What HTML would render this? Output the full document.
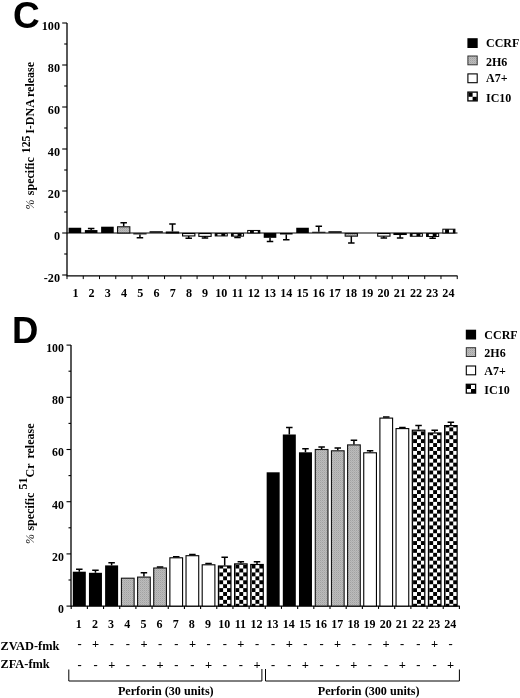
<!DOCTYPE html>
<html><head><meta charset="utf-8"><title>Figure</title>
<style>
html,body{margin:0;padding:0;background:#fff;}
body{width:520px;height:698px;overflow:hidden;font-family:"Liberation Serif",serif;}
svg{display:block;will-change:transform;}
</style></head><body>
<svg width="520" height="698" viewBox="0 0 520 698">
<rect width="520" height="698" fill="#fff"/>
<defs>
<pattern id="chkD" width="7.8" height="7.84" patternUnits="userSpaceOnUse" patternTransform="translate(-5.45,603.8)">
<rect width="7.8" height="7.84" fill="#fff"/>
<rect x="0" y="0" width="3.9" height="3.92" fill="#000"/>
<rect x="3.9" y="3.92" width="3.9" height="3.92" fill="#000"/>
</pattern>
<pattern id="chkC" width="7.8" height="7.84" patternUnits="userSpaceOnUse" patternTransform="translate(-7.7,233)">
<rect width="7.8" height="7.84" fill="#fff"/>
<rect x="0" y="0" width="3.9" height="3.92" fill="#000"/>
<rect x="3.9" y="3.92" width="3.9" height="3.92" fill="#000"/>
</pattern>
<pattern id="gry" width="2" height="2" patternUnits="userSpaceOnUse">
<rect width="2" height="2" fill="#bcbcbc"/>
<rect width="1" height="1" fill="#a2a2a2"/>
<rect x="1" y="1" width="1" height="1" fill="#b0b0b0"/>
</pattern>
</defs>
<path d="M67.0 23.0V275.9H457.5" stroke="#000" stroke-width="1.3" fill="none"/>
<path d="M67.0 233.0H457.5" stroke="#000" stroke-width="1.2" fill="none"/>
<path d="M62.2 23.00H67.0" stroke="#000" stroke-width="1.1"/>
<text x="60" y="30.10" text-anchor="end" font-family="Liberation Serif, serif" font-weight="bold" font-size="12.2">100</text>
<path d="M64.2 44.00H67.0" stroke="#000" stroke-width="1.1"/>
<path d="M62.2 65.00H67.0" stroke="#000" stroke-width="1.1"/>
<text x="60" y="72.10" text-anchor="end" font-family="Liberation Serif, serif" font-weight="bold" font-size="12.2">80</text>
<path d="M64.2 86.00H67.0" stroke="#000" stroke-width="1.1"/>
<path d="M62.2 107.00H67.0" stroke="#000" stroke-width="1.1"/>
<text x="60" y="114.10" text-anchor="end" font-family="Liberation Serif, serif" font-weight="bold" font-size="12.2">60</text>
<path d="M64.2 128.00H67.0" stroke="#000" stroke-width="1.1"/>
<path d="M62.2 149.00H67.0" stroke="#000" stroke-width="1.1"/>
<text x="60" y="156.10" text-anchor="end" font-family="Liberation Serif, serif" font-weight="bold" font-size="12.2">40</text>
<path d="M64.2 170.00H67.0" stroke="#000" stroke-width="1.1"/>
<path d="M62.2 191.00H67.0" stroke="#000" stroke-width="1.1"/>
<text x="60" y="198.10" text-anchor="end" font-family="Liberation Serif, serif" font-weight="bold" font-size="12.2">20</text>
<path d="M64.2 212.00H67.0" stroke="#000" stroke-width="1.1"/>
<path d="M62.2 233.00H67.0" stroke="#000" stroke-width="1.1"/>
<text x="60" y="240.10" text-anchor="end" font-family="Liberation Serif, serif" font-weight="bold" font-size="12.2">0</text>
<path d="M64.2 254.00H67.0" stroke="#000" stroke-width="1.1"/>
<path d="M62.2 275.00H67.0" stroke="#000" stroke-width="1.1"/>
<text x="60" y="282.10" text-anchor="end" font-family="Liberation Serif, serif" font-weight="bold" font-size="12.2">-20</text>
<path d="M67.00 275.9V279.09999999999997" stroke="#000" stroke-width="1"/>
<path d="M83.26 275.9V279.09999999999997" stroke="#000" stroke-width="1"/>
<path d="M99.52 275.9V279.09999999999997" stroke="#000" stroke-width="1"/>
<path d="M115.78 275.9V279.09999999999997" stroke="#000" stroke-width="1"/>
<path d="M132.04 275.9V279.09999999999997" stroke="#000" stroke-width="1"/>
<path d="M148.30 275.9V279.09999999999997" stroke="#000" stroke-width="1"/>
<path d="M164.56 275.9V279.09999999999997" stroke="#000" stroke-width="1"/>
<path d="M180.82 275.9V279.09999999999997" stroke="#000" stroke-width="1"/>
<path d="M197.08 275.9V279.09999999999997" stroke="#000" stroke-width="1"/>
<path d="M213.34 275.9V279.09999999999997" stroke="#000" stroke-width="1"/>
<path d="M229.60 275.9V279.09999999999997" stroke="#000" stroke-width="1"/>
<path d="M245.86 275.9V279.09999999999997" stroke="#000" stroke-width="1"/>
<path d="M262.12 275.9V279.09999999999997" stroke="#000" stroke-width="1"/>
<path d="M278.38 275.9V279.09999999999997" stroke="#000" stroke-width="1"/>
<path d="M294.64 275.9V279.09999999999997" stroke="#000" stroke-width="1"/>
<path d="M310.90 275.9V279.09999999999997" stroke="#000" stroke-width="1"/>
<path d="M327.16 275.9V279.09999999999997" stroke="#000" stroke-width="1"/>
<path d="M343.42 275.9V279.09999999999997" stroke="#000" stroke-width="1"/>
<path d="M359.68 275.9V279.09999999999997" stroke="#000" stroke-width="1"/>
<path d="M375.94 275.9V279.09999999999997" stroke="#000" stroke-width="1"/>
<path d="M392.20 275.9V279.09999999999997" stroke="#000" stroke-width="1"/>
<path d="M408.46 275.9V279.09999999999997" stroke="#000" stroke-width="1"/>
<path d="M424.72 275.9V279.09999999999997" stroke="#000" stroke-width="1"/>
<path d="M440.98 275.9V279.09999999999997" stroke="#000" stroke-width="1"/>
<path d="M457.24 275.9V279.09999999999997" stroke="#000" stroke-width="1"/>
<text x="75.40" y="297.2" text-anchor="middle" font-family="Liberation Serif, serif" font-weight="bold" font-size="12.1">1</text>
<text x="91.62" y="297.2" text-anchor="middle" font-family="Liberation Serif, serif" font-weight="bold" font-size="12.1">2</text>
<text x="107.83" y="297.2" text-anchor="middle" font-family="Liberation Serif, serif" font-weight="bold" font-size="12.1">3</text>
<text x="124.05" y="297.2" text-anchor="middle" font-family="Liberation Serif, serif" font-weight="bold" font-size="12.1">4</text>
<text x="140.27" y="297.2" text-anchor="middle" font-family="Liberation Serif, serif" font-weight="bold" font-size="12.1">5</text>
<text x="156.49" y="297.2" text-anchor="middle" font-family="Liberation Serif, serif" font-weight="bold" font-size="12.1">6</text>
<text x="172.70" y="297.2" text-anchor="middle" font-family="Liberation Serif, serif" font-weight="bold" font-size="12.1">7</text>
<text x="188.92" y="297.2" text-anchor="middle" font-family="Liberation Serif, serif" font-weight="bold" font-size="12.1">8</text>
<text x="205.14" y="297.2" text-anchor="middle" font-family="Liberation Serif, serif" font-weight="bold" font-size="12.1">9</text>
<text x="221.35" y="297.2" text-anchor="middle" font-family="Liberation Serif, serif" font-weight="bold" font-size="12.1">10</text>
<text x="237.57" y="297.2" text-anchor="middle" font-family="Liberation Serif, serif" font-weight="bold" font-size="12.1">11</text>
<text x="253.79" y="297.2" text-anchor="middle" font-family="Liberation Serif, serif" font-weight="bold" font-size="12.1">12</text>
<text x="270.00" y="297.2" text-anchor="middle" font-family="Liberation Serif, serif" font-weight="bold" font-size="12.1">13</text>
<text x="286.22" y="297.2" text-anchor="middle" font-family="Liberation Serif, serif" font-weight="bold" font-size="12.1">14</text>
<text x="302.44" y="297.2" text-anchor="middle" font-family="Liberation Serif, serif" font-weight="bold" font-size="12.1">15</text>
<text x="318.65" y="297.2" text-anchor="middle" font-family="Liberation Serif, serif" font-weight="bold" font-size="12.1">16</text>
<text x="334.87" y="297.2" text-anchor="middle" font-family="Liberation Serif, serif" font-weight="bold" font-size="12.1">17</text>
<text x="351.09" y="297.2" text-anchor="middle" font-family="Liberation Serif, serif" font-weight="bold" font-size="12.1">18</text>
<text x="367.31" y="297.2" text-anchor="middle" font-family="Liberation Serif, serif" font-weight="bold" font-size="12.1">19</text>
<text x="383.52" y="297.2" text-anchor="middle" font-family="Liberation Serif, serif" font-weight="bold" font-size="12.1">20</text>
<text x="399.74" y="297.2" text-anchor="middle" font-family="Liberation Serif, serif" font-weight="bold" font-size="12.1">21</text>
<text x="415.96" y="297.2" text-anchor="middle" font-family="Liberation Serif, serif" font-weight="bold" font-size="12.1">22</text>
<text x="432.17" y="297.2" text-anchor="middle" font-family="Liberation Serif, serif" font-weight="bold" font-size="12.1">23</text>
<text x="448.39" y="297.2" text-anchor="middle" font-family="Liberation Serif, serif" font-weight="bold" font-size="12.1">24</text>
<rect x="68.60" y="227.75" width="12.60" height="5.25" fill="#000"/>
<rect x="84.86" y="230.06" width="12.60" height="2.94" fill="#000"/>
<path d="M91.16 230.06V228.38M87.91 228.38H94.41" stroke="#000" stroke-width="1.5" fill="none"/>
<rect x="101.12" y="226.70" width="12.60" height="6.30" fill="#000"/>
<rect x="117.53" y="226.78" width="12.30" height="6.22" fill="url(#gry)" stroke="#111" stroke-width="1.1"/>
<path d="M123.68 226.28V222.71M120.43 222.71H126.93" stroke="#000" stroke-width="1.5" fill="none"/>
<rect x="133.29" y="233.00" width="13.30" height="1.47" fill="#222"/>
<path d="M139.94 234.47V237.83M136.69 237.83H143.19" stroke="#000" stroke-width="1.5" fill="none"/>
<rect x="149.55" y="231.11" width="13.30" height="1.89" fill="#222"/>
<rect x="166.31" y="232.03" width="12.30" height="0.97" fill="#fff" stroke="#000" stroke-width="1.1"/>
<path d="M172.46 231.53V223.97M169.21 223.97H175.71" stroke="#000" stroke-width="1.5" fill="none"/>
<rect x="182.57" y="233.50" width="12.30" height="2.44" fill="#fff" stroke="#000" stroke-width="1.1"/>
<path d="M188.72 235.94V238.25M185.47 238.25H191.97" stroke="#000" stroke-width="1.5" fill="none"/>
<rect x="198.83" y="233.50" width="12.30" height="2.86" fill="#fff" stroke="#000" stroke-width="1.1"/>
<path d="M204.98 236.36V238.04M201.73 238.04H208.23" stroke="#000" stroke-width="1.5" fill="none"/>
<g transform="translate(221.24,0)"><rect x="-6.05" y="233.60" width="12.10" height="2.34" fill="url(#chkC)" stroke="#000" stroke-width="1.0"/></g>
<g transform="translate(237.50,0)"><rect x="-6.05" y="233.60" width="12.10" height="2.55" fill="url(#chkC)" stroke="#000" stroke-width="1.0"/></g>
<path d="M237.50 236.15V237.62M234.25 237.62H240.75" stroke="#000" stroke-width="1.5" fill="none"/>
<g transform="translate(253.76,0)"><rect x="-6.05" y="230.45" width="12.10" height="2.55" fill="url(#chkC)" stroke="#000" stroke-width="1.0"/></g>
<rect x="263.72" y="233.00" width="12.60" height="4.83" fill="#000"/>
<path d="M270.02 237.83V241.40M266.77 241.40H273.27" stroke="#000" stroke-width="1.5" fill="none"/>
<rect x="279.98" y="233.00" width="12.60" height="1.47" fill="#000"/>
<path d="M286.28 234.47V239.72M283.03 239.72H289.53" stroke="#000" stroke-width="1.5" fill="none"/>
<rect x="296.24" y="227.75" width="12.60" height="5.25" fill="#000"/>
<rect x="312.15" y="231.74" width="13.30" height="1.26" fill="#222"/>
<path d="M318.80 231.74V226.28M315.55 226.28H322.05" stroke="#000" stroke-width="1.5" fill="none"/>
<rect x="328.41" y="231.11" width="13.30" height="1.89" fill="#222"/>
<rect x="345.17" y="233.50" width="12.30" height="2.65" fill="url(#gry)" stroke="#111" stroke-width="1.1"/>
<path d="M351.32 236.15V243.08M348.07 243.08H354.57" stroke="#000" stroke-width="1.5" fill="none"/>
<rect x="361.43" y="233.08" width="12.30" height="-0.08" fill="#fff" stroke="#000" stroke-width="1.1"/>
<rect x="377.69" y="233.50" width="12.30" height="2.65" fill="#fff" stroke="#000" stroke-width="1.1"/>
<path d="M383.84 236.15V238.04M380.59 238.04H387.09" stroke="#000" stroke-width="1.5" fill="none"/>
<rect x="393.95" y="233.50" width="12.30" height="0.97" fill="#fff" stroke="#000" stroke-width="1.1"/>
<path d="M400.10 234.47V238.04M396.85 238.04H403.35" stroke="#000" stroke-width="1.5" fill="none"/>
<g transform="translate(416.36,0)"><rect x="-6.05" y="233.60" width="12.10" height="2.65" fill="url(#chkC)" stroke="#000" stroke-width="1.0"/></g>
<g transform="translate(432.62,0)"><rect x="-6.05" y="233.60" width="12.10" height="2.87" fill="url(#chkC)" stroke="#000" stroke-width="1.0"/></g>
<path d="M432.62 236.47V238.15M429.37 238.15H435.87" stroke="#000" stroke-width="1.5" fill="none"/>
<g transform="translate(448.88,0)"><rect x="-6.05" y="229.19" width="12.10" height="3.81" fill="url(#chkC)" stroke="#000" stroke-width="1.0"/></g>
<rect x="467.4" y="38.2" width="10.3" height="9.8" fill="#000"/>
<text x="486" y="47.2" font-family="Liberation Serif, serif" font-weight="bold" font-size="12">CCRF</text>
<rect x="467.9" y="56.0" width="9.3" height="8.8" fill="url(#gry)" stroke="#333" stroke-width="1"/>
<text x="486" y="65.8" font-family="Liberation Serif, serif" font-weight="bold" font-size="12">2H6</text>
<rect x="467.9" y="73.9" width="9.3" height="8.8" fill="#fff" stroke="#000" stroke-width="1.1"/>
<text x="486" y="82.4" font-family="Liberation Serif, serif" font-weight="bold" font-size="12">A7+</text>
<rect x="467.9" y="92.1" width="9.3" height="8.8" fill="#fff" stroke="#000" stroke-width="1.3"/>
<rect x="468.4" y="92.6" width="4.2" height="4.2" fill="#000"/>
<rect x="472.59999999999997" y="96.8" width="4.2" height="4" fill="#000"/>
<text x="486" y="102" font-family="Liberation Serif, serif" font-weight="bold" font-size="12">IC10</text>
<text x="12.9" y="27.7" font-family="Liberation Sans, sans-serif" font-weight="bold" font-size="37">C</text>
<text transform="translate(34,211) rotate(-90)" font-family="Liberation Serif, serif" font-weight="bold" font-size="12"><tspan x="1.4" font-weight="normal" font-style="italic">%</tspan><tspan x="15.8">specific</tspan><tspan x="57.8" dy="-4.2" font-size="11.8">125</tspan><tspan x="77.2" dy="4.2">I-DNA</tspan><tspan x="114">release</tspan></text>
<path d="M71.0 345.0V606.1H459.8" stroke="#000" stroke-width="1.3" fill="none"/>
<path d="M66.5 345.10H71.0" stroke="#000" stroke-width="1.1"/>
<text transform="translate(63.9,351.90) scale(0.89,1)" text-anchor="end" font-family="Liberation Serif, serif" font-weight="bold" font-size="13.3">100</text>
<path d="M68.5 371.20H71.0" stroke="#000" stroke-width="1.1"/>
<path d="M66.5 397.30H71.0" stroke="#000" stroke-width="1.1"/>
<text transform="translate(63.9,404.10) scale(0.89,1)" text-anchor="end" font-family="Liberation Serif, serif" font-weight="bold" font-size="13.3">80</text>
<path d="M68.5 423.40H71.0" stroke="#000" stroke-width="1.1"/>
<path d="M66.5 449.50H71.0" stroke="#000" stroke-width="1.1"/>
<text transform="translate(63.9,456.30) scale(0.89,1)" text-anchor="end" font-family="Liberation Serif, serif" font-weight="bold" font-size="13.3">60</text>
<path d="M68.5 475.60H71.0" stroke="#000" stroke-width="1.1"/>
<path d="M66.5 501.70H71.0" stroke="#000" stroke-width="1.1"/>
<text transform="translate(63.9,508.50) scale(0.89,1)" text-anchor="end" font-family="Liberation Serif, serif" font-weight="bold" font-size="13.3">40</text>
<path d="M68.5 527.80H71.0" stroke="#000" stroke-width="1.1"/>
<path d="M66.5 553.90H71.0" stroke="#000" stroke-width="1.1"/>
<text transform="translate(63.9,560.70) scale(0.89,1)" text-anchor="end" font-family="Liberation Serif, serif" font-weight="bold" font-size="13.3">20</text>
<path d="M68.5 580.00H71.0" stroke="#000" stroke-width="1.1"/>
<path d="M66.5 606.10H71.0" stroke="#000" stroke-width="1.1"/>
<text transform="translate(63.9,612.90) scale(0.89,1)" text-anchor="end" font-family="Liberation Serif, serif" font-weight="bold" font-size="13.3">0</text>
<path d="M71.20 606.1V608.9" stroke="#000" stroke-width="1.1"/>
<path d="M87.38 606.1V608.9" stroke="#000" stroke-width="1.1"/>
<path d="M103.55 606.1V608.9" stroke="#000" stroke-width="1.1"/>
<path d="M119.73 606.1V608.9" stroke="#000" stroke-width="1.1"/>
<path d="M135.90 606.1V608.9" stroke="#000" stroke-width="1.1"/>
<path d="M152.07 606.1V608.9" stroke="#000" stroke-width="1.1"/>
<path d="M168.25 606.1V608.9" stroke="#000" stroke-width="1.1"/>
<path d="M184.43 606.1V608.9" stroke="#000" stroke-width="1.1"/>
<path d="M200.60 606.1V608.9" stroke="#000" stroke-width="1.1"/>
<path d="M216.78 606.1V608.9" stroke="#000" stroke-width="1.1"/>
<path d="M232.95 606.1V608.9" stroke="#000" stroke-width="1.1"/>
<path d="M249.12 606.1V608.9" stroke="#000" stroke-width="1.1"/>
<path d="M265.30 606.1V608.9" stroke="#000" stroke-width="1.1"/>
<path d="M281.48 606.1V608.9" stroke="#000" stroke-width="1.1"/>
<path d="M297.65 606.1V608.9" stroke="#000" stroke-width="1.1"/>
<path d="M313.82 606.1V608.9" stroke="#000" stroke-width="1.1"/>
<path d="M330.00 606.1V608.9" stroke="#000" stroke-width="1.1"/>
<path d="M346.18 606.1V608.9" stroke="#000" stroke-width="1.1"/>
<path d="M362.35 606.1V608.9" stroke="#000" stroke-width="1.1"/>
<path d="M378.52 606.1V608.9" stroke="#000" stroke-width="1.1"/>
<path d="M394.70 606.1V608.9" stroke="#000" stroke-width="1.1"/>
<path d="M410.88 606.1V608.9" stroke="#000" stroke-width="1.1"/>
<path d="M427.05 606.1V608.9" stroke="#000" stroke-width="1.1"/>
<path d="M443.23 606.1V608.9" stroke="#000" stroke-width="1.1"/>
<path d="M459.40 606.1V608.9" stroke="#000" stroke-width="1.1"/>
<text x="78.80" y="628.2" text-anchor="middle" font-family="Liberation Serif, serif" font-weight="bold" font-size="12">1</text>
<text x="94.95" y="628.2" text-anchor="middle" font-family="Liberation Serif, serif" font-weight="bold" font-size="12">2</text>
<text x="111.10" y="628.2" text-anchor="middle" font-family="Liberation Serif, serif" font-weight="bold" font-size="12">3</text>
<text x="127.26" y="628.2" text-anchor="middle" font-family="Liberation Serif, serif" font-weight="bold" font-size="12">4</text>
<text x="143.41" y="628.2" text-anchor="middle" font-family="Liberation Serif, serif" font-weight="bold" font-size="12">5</text>
<text x="159.56" y="628.2" text-anchor="middle" font-family="Liberation Serif, serif" font-weight="bold" font-size="12">6</text>
<text x="175.71" y="628.2" text-anchor="middle" font-family="Liberation Serif, serif" font-weight="bold" font-size="12">7</text>
<text x="191.86" y="628.2" text-anchor="middle" font-family="Liberation Serif, serif" font-weight="bold" font-size="12">8</text>
<text x="208.02" y="628.2" text-anchor="middle" font-family="Liberation Serif, serif" font-weight="bold" font-size="12">9</text>
<text x="224.17" y="628.2" text-anchor="middle" font-family="Liberation Serif, serif" font-weight="bold" font-size="12">10</text>
<text x="240.32" y="628.2" text-anchor="middle" font-family="Liberation Serif, serif" font-weight="bold" font-size="12">11</text>
<text x="256.47" y="628.2" text-anchor="middle" font-family="Liberation Serif, serif" font-weight="bold" font-size="12">12</text>
<text x="272.62" y="628.2" text-anchor="middle" font-family="Liberation Serif, serif" font-weight="bold" font-size="12">13</text>
<text x="288.78" y="628.2" text-anchor="middle" font-family="Liberation Serif, serif" font-weight="bold" font-size="12">14</text>
<text x="304.93" y="628.2" text-anchor="middle" font-family="Liberation Serif, serif" font-weight="bold" font-size="12">15</text>
<text x="321.08" y="628.2" text-anchor="middle" font-family="Liberation Serif, serif" font-weight="bold" font-size="12">16</text>
<text x="337.23" y="628.2" text-anchor="middle" font-family="Liberation Serif, serif" font-weight="bold" font-size="12">17</text>
<text x="353.38" y="628.2" text-anchor="middle" font-family="Liberation Serif, serif" font-weight="bold" font-size="12">18</text>
<text x="369.54" y="628.2" text-anchor="middle" font-family="Liberation Serif, serif" font-weight="bold" font-size="12">19</text>
<text x="385.69" y="628.2" text-anchor="middle" font-family="Liberation Serif, serif" font-weight="bold" font-size="12">20</text>
<text x="401.84" y="628.2" text-anchor="middle" font-family="Liberation Serif, serif" font-weight="bold" font-size="12">21</text>
<text x="417.99" y="628.2" text-anchor="middle" font-family="Liberation Serif, serif" font-weight="bold" font-size="12">22</text>
<text x="434.14" y="628.2" text-anchor="middle" font-family="Liberation Serif, serif" font-weight="bold" font-size="12">23</text>
<text x="450.30" y="628.2" text-anchor="middle" font-family="Liberation Serif, serif" font-weight="bold" font-size="12">24</text>
<rect x="72.80" y="571.70" width="13.00" height="34.40" fill="#000"/>
<path d="M79.30 571.70V569.20M76.05 569.20H82.55" stroke="#000" stroke-width="1.5" fill="none"/>
<rect x="88.95" y="572.80" width="13.00" height="33.30" fill="#000"/>
<path d="M95.45 572.80V570.30M92.20 570.30H98.70" stroke="#000" stroke-width="1.5" fill="none"/>
<rect x="105.11" y="565.40" width="13.00" height="40.70" fill="#000"/>
<path d="M111.61 565.40V562.80M108.36 562.80H114.86" stroke="#000" stroke-width="1.5" fill="none"/>
<rect x="121.42" y="578.20" width="12.70" height="27.90" fill="url(#gry)" stroke="#111" stroke-width="1.1"/>
<rect x="137.57" y="577.10" width="12.70" height="29.00" fill="url(#gry)" stroke="#111" stroke-width="1.1"/>
<path d="M143.92 576.60V572.80M140.67 572.80H147.17" stroke="#000" stroke-width="1.5" fill="none"/>
<rect x="153.72" y="568.00" width="12.70" height="38.10" fill="url(#gry)" stroke="#111" stroke-width="1.1"/>
<path d="M160.07 567.50V567.00M156.82 567.00H163.32" stroke="#000" stroke-width="1.5" fill="none"/>
<rect x="169.88" y="557.80" width="12.70" height="48.30" fill="#fff" stroke="#000" stroke-width="1.1"/>
<path d="M176.23 557.30V556.80M172.98 556.80H179.48" stroke="#000" stroke-width="1.5" fill="none"/>
<rect x="186.03" y="555.70" width="12.70" height="50.40" fill="#fff" stroke="#000" stroke-width="1.1"/>
<path d="M192.38 555.20V554.40M189.13 554.40H195.63" stroke="#000" stroke-width="1.5" fill="none"/>
<rect x="202.19" y="564.80" width="12.70" height="41.30" fill="#fff" stroke="#000" stroke-width="1.1"/>
<path d="M208.54 564.30V563.50M205.29 563.50H211.79" stroke="#000" stroke-width="1.5" fill="none"/>
<g transform="translate(224.69,0)"><rect x="-6.25" y="566.00" width="12.50" height="40.10" fill="url(#chkD)" stroke="#000" stroke-width="1.2"/></g>
<path d="M224.69 565.40V557.30M221.44 557.30H227.94" stroke="#000" stroke-width="1.5" fill="none"/>
<g transform="translate(240.85,0)"><rect x="-6.25" y="563.90" width="12.50" height="42.20" fill="url(#chkD)" stroke="#000" stroke-width="1.2"/></g>
<path d="M240.85 563.30V561.80M237.60 561.80H244.10" stroke="#000" stroke-width="1.5" fill="none"/>
<g transform="translate(257.00,0)"><rect x="-6.25" y="564.50" width="12.50" height="41.60" fill="url(#chkD)" stroke="#000" stroke-width="1.2"/></g>
<path d="M257.00 563.90V561.80M253.75 561.80H260.25" stroke="#000" stroke-width="1.5" fill="none"/>
<rect x="266.66" y="472.30" width="13.00" height="133.80" fill="#000"/>
<rect x="282.81" y="434.50" width="13.00" height="171.60" fill="#000"/>
<path d="M289.31 434.50V427.50M286.06 427.50H292.56" stroke="#000" stroke-width="1.5" fill="none"/>
<rect x="298.97" y="452.30" width="13.00" height="153.80" fill="#000"/>
<path d="M305.47 452.30V448.70M302.22 448.70H308.72" stroke="#000" stroke-width="1.5" fill="none"/>
<rect x="315.27" y="449.50" width="12.70" height="156.60" fill="url(#gry)" stroke="#111" stroke-width="1.1"/>
<path d="M321.62 449.00V447.00M318.38 447.00H324.88" stroke="#000" stroke-width="1.5" fill="none"/>
<rect x="331.43" y="450.80" width="12.70" height="155.30" fill="url(#gry)" stroke="#111" stroke-width="1.1"/>
<path d="M337.78 450.30V448.00M334.53 448.00H341.03" stroke="#000" stroke-width="1.5" fill="none"/>
<rect x="347.58" y="444.90" width="12.70" height="161.20" fill="url(#gry)" stroke="#111" stroke-width="1.1"/>
<path d="M353.94 444.40V440.20M350.69 440.20H357.19" stroke="#000" stroke-width="1.5" fill="none"/>
<rect x="363.74" y="452.80" width="12.70" height="153.30" fill="#fff" stroke="#000" stroke-width="1.1"/>
<path d="M370.09 452.30V450.80M366.84 450.80H373.34" stroke="#000" stroke-width="1.5" fill="none"/>
<rect x="379.90" y="418.10" width="12.70" height="188.00" fill="#fff" stroke="#000" stroke-width="1.1"/>
<path d="M386.25 417.60V417.00M383.00 417.00H389.50" stroke="#000" stroke-width="1.5" fill="none"/>
<rect x="396.05" y="428.60" width="12.70" height="177.50" fill="#fff" stroke="#000" stroke-width="1.1"/>
<path d="M402.40 428.10V427.50M399.15 427.50H405.65" stroke="#000" stroke-width="1.5" fill="none"/>
<g transform="translate(418.56,0)"><rect x="-6.25" y="430.20" width="12.50" height="175.90" fill="url(#chkD)" stroke="#000" stroke-width="1.2"/></g>
<path d="M418.56 429.60V425.40M415.31 425.40H421.81" stroke="#000" stroke-width="1.5" fill="none"/>
<g transform="translate(434.71,0)"><rect x="-6.25" y="433.00" width="12.50" height="173.10" fill="url(#chkD)" stroke="#000" stroke-width="1.2"/></g>
<path d="M434.71 432.40V430.30M431.46 430.30H437.96" stroke="#000" stroke-width="1.5" fill="none"/>
<g transform="translate(450.87,0)"><rect x="-6.25" y="425.60" width="12.50" height="180.50" fill="url(#chkD)" stroke="#000" stroke-width="1.2"/></g>
<path d="M450.87 425.00V422.20M447.62 422.20H454.12" stroke="#000" stroke-width="1.5" fill="none"/>
<rect x="465.8" y="329.7" width="10.3" height="9.8" fill="#000"/>
<text x="484.3" y="338.8" font-family="Liberation Serif, serif" font-weight="bold" font-size="12">CCRF</text>
<rect x="466.3" y="347.7" width="9.3" height="8.8" fill="url(#gry)" stroke="#333" stroke-width="1"/>
<text x="484.3" y="357.4" font-family="Liberation Serif, serif" font-weight="bold" font-size="12">2H6</text>
<rect x="466.3" y="366.0" width="9.3" height="8.8" fill="#fff" stroke="#000" stroke-width="1.1"/>
<text x="484.3" y="374.6" font-family="Liberation Serif, serif" font-weight="bold" font-size="12">A7+</text>
<rect x="466.3" y="384.3" width="9.3" height="8.8" fill="#fff" stroke="#000" stroke-width="1.3"/>
<rect x="466.8" y="384.8" width="4.2" height="4.2" fill="#000"/>
<rect x="471.0" y="389.0" width="4.2" height="4" fill="#000"/>
<text x="484.3" y="394.3" font-family="Liberation Serif, serif" font-weight="bold" font-size="12">IC10</text>
<text x="11.9" y="343" font-family="Liberation Sans, sans-serif" font-weight="bold" font-size="36.5">D</text>
<text transform="translate(33.6,545) rotate(-90)" font-family="Liberation Serif, serif" font-weight="bold" font-size="12"><tspan x="1.1" font-weight="normal" font-style="italic">%</tspan><tspan x="14.4">specific</tspan><tspan x="55.5" dy="-6.5" font-size="12">51</tspan><tspan x="67.5" dy="6.5">Cr</tspan><tspan x="86.4">release</tspan></text>
<text x="0.4" y="649.6" font-family="Liberation Serif, serif" font-weight="bold" font-size="12.4">ZVAD-fmk</text>
<text x="0.4" y="668.2" font-family="Liberation Serif, serif" font-weight="bold" font-size="12.4">ZFA-fmk</text>
<text x="79.50" y="648" text-anchor="middle" font-family="Liberation Serif, serif" font-weight="bold" font-size="12.5">-</text>
<text x="79.50" y="668.7" text-anchor="middle" font-family="Liberation Serif, serif" font-weight="bold" font-size="12.5">-</text>
<text x="95.64" y="648" text-anchor="middle" font-family="Liberation Serif, serif" font-weight="bold" font-size="12.5">+</text>
<text x="95.64" y="668.7" text-anchor="middle" font-family="Liberation Serif, serif" font-weight="bold" font-size="12.5">-</text>
<text x="111.77" y="648" text-anchor="middle" font-family="Liberation Serif, serif" font-weight="bold" font-size="12.5">-</text>
<text x="111.77" y="668.7" text-anchor="middle" font-family="Liberation Serif, serif" font-weight="bold" font-size="12.5">+</text>
<text x="127.91" y="648" text-anchor="middle" font-family="Liberation Serif, serif" font-weight="bold" font-size="12.5">-</text>
<text x="127.91" y="668.7" text-anchor="middle" font-family="Liberation Serif, serif" font-weight="bold" font-size="12.5">-</text>
<text x="144.04" y="648" text-anchor="middle" font-family="Liberation Serif, serif" font-weight="bold" font-size="12.5">+</text>
<text x="144.04" y="668.7" text-anchor="middle" font-family="Liberation Serif, serif" font-weight="bold" font-size="12.5">-</text>
<text x="160.18" y="648" text-anchor="middle" font-family="Liberation Serif, serif" font-weight="bold" font-size="12.5">-</text>
<text x="160.18" y="668.7" text-anchor="middle" font-family="Liberation Serif, serif" font-weight="bold" font-size="12.5">+</text>
<text x="176.31" y="648" text-anchor="middle" font-family="Liberation Serif, serif" font-weight="bold" font-size="12.5">-</text>
<text x="176.31" y="668.7" text-anchor="middle" font-family="Liberation Serif, serif" font-weight="bold" font-size="12.5">-</text>
<text x="192.44" y="648" text-anchor="middle" font-family="Liberation Serif, serif" font-weight="bold" font-size="12.5">+</text>
<text x="192.44" y="668.7" text-anchor="middle" font-family="Liberation Serif, serif" font-weight="bold" font-size="12.5">-</text>
<text x="208.58" y="648" text-anchor="middle" font-family="Liberation Serif, serif" font-weight="bold" font-size="12.5">-</text>
<text x="208.58" y="668.7" text-anchor="middle" font-family="Liberation Serif, serif" font-weight="bold" font-size="12.5">+</text>
<text x="224.72" y="648" text-anchor="middle" font-family="Liberation Serif, serif" font-weight="bold" font-size="12.5">-</text>
<text x="224.72" y="668.7" text-anchor="middle" font-family="Liberation Serif, serif" font-weight="bold" font-size="12.5">-</text>
<text x="240.85" y="648" text-anchor="middle" font-family="Liberation Serif, serif" font-weight="bold" font-size="12.5">+</text>
<text x="240.85" y="668.7" text-anchor="middle" font-family="Liberation Serif, serif" font-weight="bold" font-size="12.5">-</text>
<text x="256.99" y="648" text-anchor="middle" font-family="Liberation Serif, serif" font-weight="bold" font-size="12.5">-</text>
<text x="256.99" y="668.7" text-anchor="middle" font-family="Liberation Serif, serif" font-weight="bold" font-size="12.5">+</text>
<text x="273.12" y="648" text-anchor="middle" font-family="Liberation Serif, serif" font-weight="bold" font-size="12.5">-</text>
<text x="273.12" y="668.7" text-anchor="middle" font-family="Liberation Serif, serif" font-weight="bold" font-size="12.5">-</text>
<text x="289.25" y="648" text-anchor="middle" font-family="Liberation Serif, serif" font-weight="bold" font-size="12.5">+</text>
<text x="289.25" y="668.7" text-anchor="middle" font-family="Liberation Serif, serif" font-weight="bold" font-size="12.5">-</text>
<text x="305.39" y="648" text-anchor="middle" font-family="Liberation Serif, serif" font-weight="bold" font-size="12.5">-</text>
<text x="305.39" y="668.7" text-anchor="middle" font-family="Liberation Serif, serif" font-weight="bold" font-size="12.5">+</text>
<text x="321.53" y="648" text-anchor="middle" font-family="Liberation Serif, serif" font-weight="bold" font-size="12.5">-</text>
<text x="321.53" y="668.7" text-anchor="middle" font-family="Liberation Serif, serif" font-weight="bold" font-size="12.5">-</text>
<text x="337.66" y="648" text-anchor="middle" font-family="Liberation Serif, serif" font-weight="bold" font-size="12.5">+</text>
<text x="337.66" y="668.7" text-anchor="middle" font-family="Liberation Serif, serif" font-weight="bold" font-size="12.5">-</text>
<text x="353.80" y="648" text-anchor="middle" font-family="Liberation Serif, serif" font-weight="bold" font-size="12.5">-</text>
<text x="353.80" y="668.7" text-anchor="middle" font-family="Liberation Serif, serif" font-weight="bold" font-size="12.5">+</text>
<text x="369.93" y="648" text-anchor="middle" font-family="Liberation Serif, serif" font-weight="bold" font-size="12.5">-</text>
<text x="369.93" y="668.7" text-anchor="middle" font-family="Liberation Serif, serif" font-weight="bold" font-size="12.5">-</text>
<text x="386.07" y="648" text-anchor="middle" font-family="Liberation Serif, serif" font-weight="bold" font-size="12.5">+</text>
<text x="386.07" y="668.7" text-anchor="middle" font-family="Liberation Serif, serif" font-weight="bold" font-size="12.5">-</text>
<text x="402.20" y="648" text-anchor="middle" font-family="Liberation Serif, serif" font-weight="bold" font-size="12.5">-</text>
<text x="402.20" y="668.7" text-anchor="middle" font-family="Liberation Serif, serif" font-weight="bold" font-size="12.5">+</text>
<text x="418.34" y="648" text-anchor="middle" font-family="Liberation Serif, serif" font-weight="bold" font-size="12.5">-</text>
<text x="418.34" y="668.7" text-anchor="middle" font-family="Liberation Serif, serif" font-weight="bold" font-size="12.5">-</text>
<text x="434.47" y="648" text-anchor="middle" font-family="Liberation Serif, serif" font-weight="bold" font-size="12.5">+</text>
<text x="434.47" y="668.7" text-anchor="middle" font-family="Liberation Serif, serif" font-weight="bold" font-size="12.5">-</text>
<text x="450.61" y="648" text-anchor="middle" font-family="Liberation Serif, serif" font-weight="bold" font-size="12.5">-</text>
<text x="450.61" y="668.7" text-anchor="middle" font-family="Liberation Serif, serif" font-weight="bold" font-size="12.5">+</text>
<path d="M68.8 669.5V681H261.9V669" stroke="#000" stroke-width="1" fill="none"/>
<path d="M265.5 669V681H459.4V669.5" stroke="#000" stroke-width="1" fill="none"/>
<text x="117.9" y="694.8" font-family="Liberation Serif, serif" font-weight="bold" font-size="12.15">Perforin (30 units)</text>
<text x="317.8" y="695.0" font-family="Liberation Serif, serif" font-weight="bold" font-size="12.15">Perforin (300 units)</text>
</svg>
</body></html>
